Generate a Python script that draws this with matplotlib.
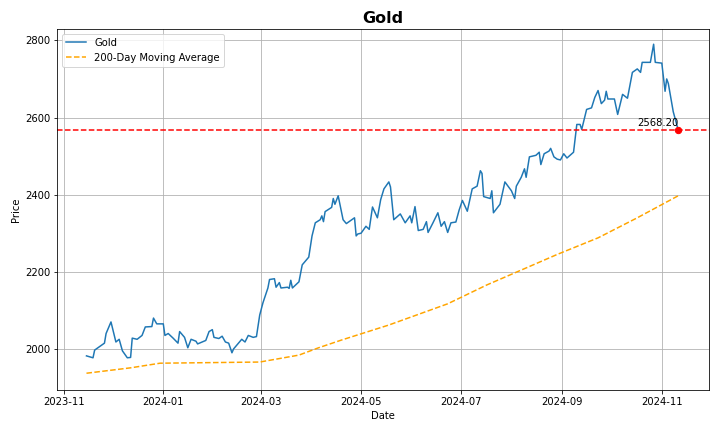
import matplotlib
matplotlib.use("Agg")
import matplotlib.pyplot as plt
import pandas as pd

price_dates = ["2023-11-15","2023-11-19","2023-11-20","2023-11-26","2023-11-27","2023-11-30","2023-12-03","2023-12-05","2023-12-07","2023-12-10","2023-12-12","2023-12-13","2023-12-16","2023-12-19","2023-12-21","2023-12-25","2023-12-26","2023-12-28",
"2024-01-01","2024-01-02","2024-01-04","2024-01-07","2024-01-10","2024-01-11","2024-01-14","2024-01-16","2024-01-18","2024-01-21","2024-01-22","2024-01-27","2024-01-29","2024-01-31",
"2024-02-01","2024-02-04","2024-02-06","2024-02-08","2024-02-10","2024-02-12","2024-02-13","2024-02-18","2024-02-20","2024-02-22","2024-02-25","2024-02-27","2024-02-29",
"2024-03-02","2024-03-05","2024-03-06","2024-03-09","2024-03-10","2024-03-12","2024-03-13","2024-03-17","2024-03-18","2024-03-19","2024-03-20","2024-03-24","2024-03-26","2024-03-30",
"2024-04-01","2024-04-03","2024-04-06","2024-04-07","2024-04-08","2024-04-09","2024-04-13","2024-04-14","2024-04-15","2024-04-17","2024-04-20","2024-04-22","2024-04-27","2024-04-28","2024-04-29",
"2024-05-01","2024-05-04","2024-05-06","2024-05-08","2024-05-11","2024-05-13","2024-05-15","2024-05-18","2024-05-19","2024-05-21","2024-05-25","2024-05-28","2024-05-31",
"2024-06-01","2024-06-03","2024-06-05","2024-06-08","2024-06-10","2024-06-11","2024-06-14","2024-06-17","2024-06-19","2024-06-21","2024-06-23","2024-06-25","2024-06-28","2024-06-30",
"2024-07-02","2024-07-05","2024-07-08","2024-07-11","2024-07-13","2024-07-14","2024-07-15","2024-07-19","2024-07-20","2024-07-21","2024-07-25","2024-07-28",
"2024-08-01","2024-08-03","2024-08-04","2024-08-07","2024-08-09","2024-08-10","2024-08-12","2024-08-16","2024-08-18","2024-08-19","2024-08-21","2024-08-24","2024-08-25","2024-08-27","2024-08-29","2024-08-31",
"2024-09-02","2024-09-04","2024-09-08","2024-09-10","2024-09-12","2024-09-13","2024-09-16","2024-09-19","2024-09-21","2024-09-23","2024-09-25","2024-09-27","2024-09-28","2024-09-29",
"2024-10-01","2024-10-03","2024-10-05","2024-10-08","2024-10-11","2024-10-12","2024-10-14","2024-10-17","2024-10-19","2024-10-20","2024-10-23","2024-10-25","2024-10-27","2024-10-28",
"2024-11-01","2024-11-03","2024-11-04","2024-11-05","2024-11-08","2024-11-11"]
prices = [1982,1977,1997,2015,2040,2070,2018,2025,1995,1977,1978,2028,2025,2035,2057,2058,2080,2065,
2065,2035,2040,2028,2015,2045,2030,2003,2025,2020,2013,2022,2045,2050,
2030,2027,2033,2018,2015,1990,2000,2025,2018,2035,2030,2032,2088,
2120,2158,2180,2182,2160,2172,2158,2160,2157,2178,2158,2174,2218,2238,
2293,2327,2335,2345,2330,2356,2367,2390,2375,2397,2335,2325,2340,2293,2298,
2300,2318,2310,2368,2340,2387,2415,2433,2420,2335,2350,2327,2345,
2327,2369,2307,2310,2330,2302,2327,2353,2318,2330,2302,2327,2329,2360,
2385,2357,2415,2422,2462,2455,2395,2390,2410,2353,2375,2433,
2410,2390,2422,2445,2467,2445,2498,2502,2510,2478,2506,2513,2520,2498,2492,2490,
2506,2495,2510,2582,2582,2569,2621,2625,2652,2670,2636,2645,2668,2648,
2648,2648,2608,2660,2650,2672,2717,2726,2717,2743,2743,2743,2790,2743,
2741,2668,2700,2688,2615,2568.2]

ma_dates = ["2023-11-15","2023-12-12","2023-12-30","2024-02-29","2024-03-24","2024-04-05","2024-04-19","2024-05-18","2024-06-23","2024-07-17","2024-08-10","2024-08-29","2024-09-23","2024-10-17","2024-11-11"]
ma_values = [1937,1951,1963,1966,1984,2003,2023,2062,2117,2166,2210,2245,2288,2340,2397]

last_price = 2568.20

pd_dates = pd.to_datetime(price_dates)
pd_ma = pd.to_datetime(ma_dates)

fig, ax = plt.subplots(figsize=(10, 6), dpi=72)
ax.plot(pd_dates, prices, color="#1f77b4", lw=1.5, label="Gold")
ax.plot(pd_ma, ma_values, color="orange", ls="--", lw=1.5, label="200-Day Moving Average")
ax.axhline(last_price, color="red", ls="--", lw=1.5)
ax.scatter([pd_dates[-1]], [last_price], color="red", s=40, zorder=5)
ax.text(pd_dates[-1], last_price + 5, f"{last_price:.2f}", ha="right", va="bottom", fontsize=10)
ax.set_xlim(pd.Timestamp("2023-10-28"), pd.Timestamp("2024-11-30"))
ax.set_ylim(1893, 2830)
ax.set_title("Gold", fontsize=16, fontweight="bold")
ax.set_xlabel("Date")
ax.set_ylabel("Price")
ax.grid(True)
ax.legend(loc="upper left")
fig.tight_layout()
fig.savefig("out.png")
